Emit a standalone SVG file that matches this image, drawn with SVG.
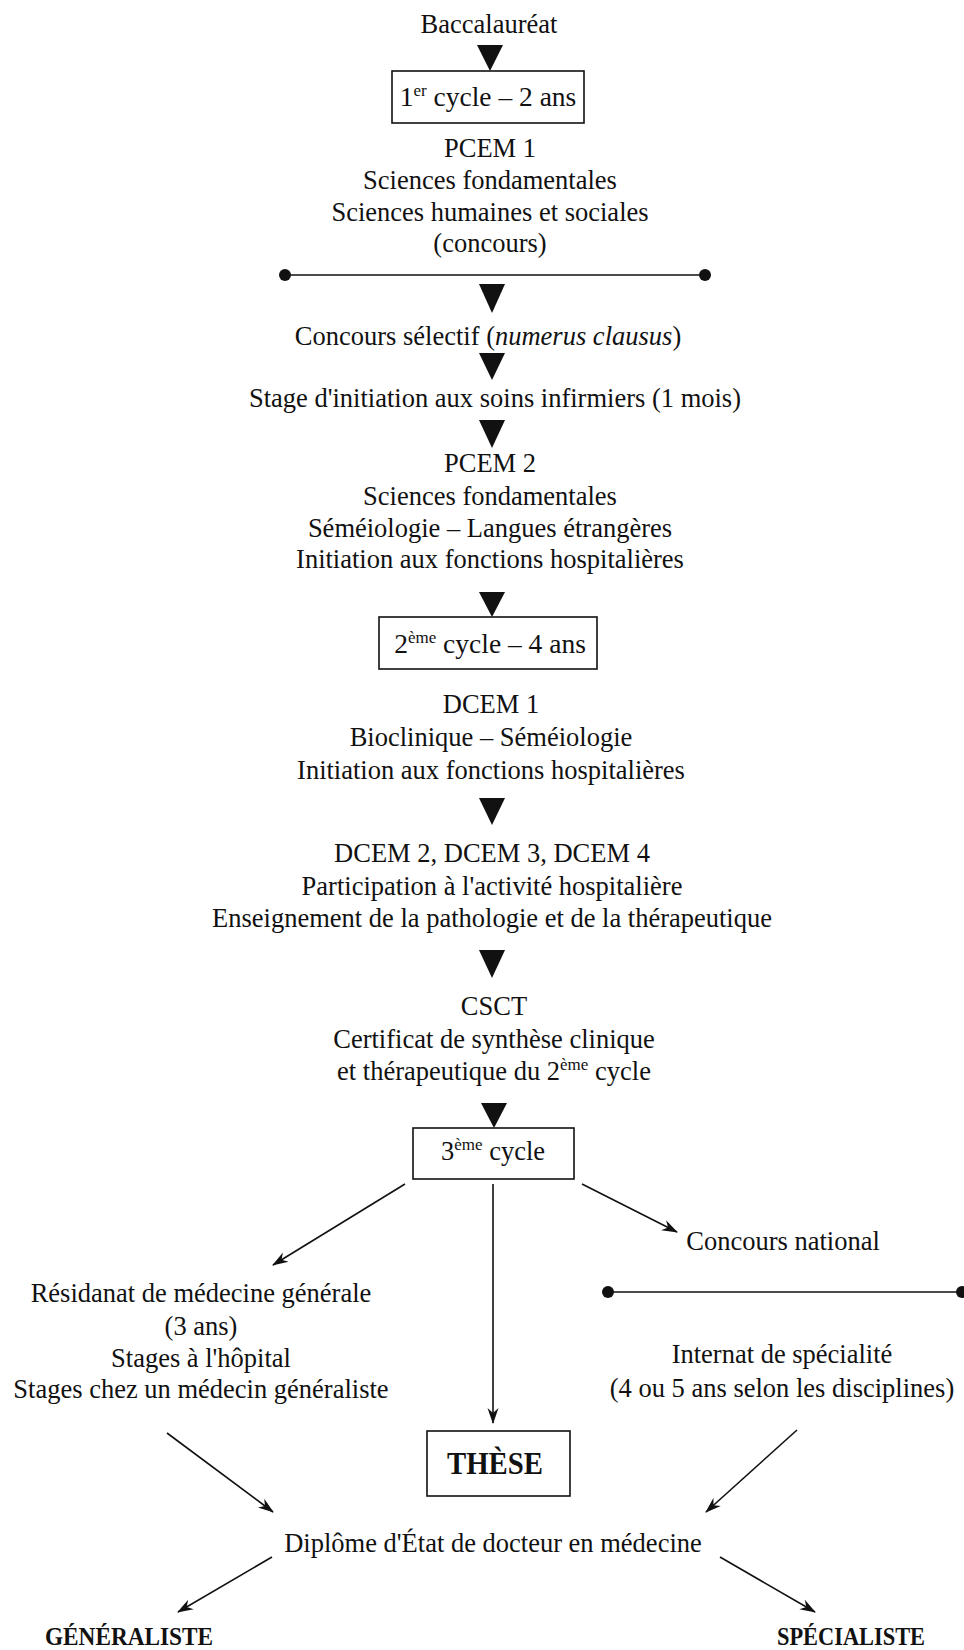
<svg xmlns="http://www.w3.org/2000/svg" width="964" height="1650" viewBox="0 0 964 1650">
<defs>
<style>
text{font-family:"Liberation Serif","Times New Roman",serif;font-size:26.5px;fill:#111;text-anchor:middle}
.bx{font-size:27.5px}
.b{font-weight:bold;font-size:26px}
.t{font-weight:bold;font-size:32px}
.sup{font-size:17px}
.box{fill:#fff;stroke:#111;stroke-width:1.6}
.tri{fill:#111}
.ln{stroke:#111;stroke-width:1.6;fill:none}
.ar{stroke:#111;stroke-width:1.6;fill:none;marker-end:url(#ah)}
.dot{fill:#111}
</style>
<marker id="ah" markerWidth="18" markerHeight="12" refX="15" refY="6" orient="auto" markerUnits="userSpaceOnUse">
<path d="M0,0.5 L16,6 L0,11.5 L5,6 Z" fill="#111"/>
</marker>
</defs>
<rect width="964" height="1650" fill="#fff"/>

<g id="connectors">
<polygon class="tri" points="477,45 503,45 490,71"/>
<line class="ln" x1="285" y1="275" x2="705" y2="275"/>
<circle class="dot" cx="285" cy="275" r="6"/>
<circle class="dot" cx="705" cy="275" r="6"/>
<polygon class="tri" points="479,284 505,284 492,313"/>
<polygon class="tri" points="479,353 505,353 492,380"/>
<polygon class="tri" points="479,420 505,420 492,448"/>
<polygon class="tri" points="479,592 505,592 492,617"/>
<polygon class="tri" points="479,798 505,798 492,825"/>
<polygon class="tri" points="479,950 505,950 492,978"/>
<polygon class="tri" points="481,1103 507,1103 494,1128"/>
<line class="ar" x1="405" y1="1184" x2="273" y2="1265"/>
<line class="ar" x1="582" y1="1184" x2="677" y2="1232"/>
<line class="ar" x1="493" y1="1184" x2="493" y2="1423"/>
<line class="ln" x1="608" y1="1292" x2="962" y2="1292"/>
<circle class="dot" cx="608" cy="1292" r="6"/>
<circle class="dot" cx="962" cy="1292" r="6"/>
<line class="ar" x1="167" y1="1433" x2="273" y2="1512"/>
<line class="ar" x1="797" y1="1430" x2="706" y2="1512"/>
<line class="ar" x1="272" y1="1557" x2="178" y2="1612"/>
<line class="ar" x1="720" y1="1557" x2="815" y2="1612"/>
</g>

<g id="bac"><text x="489" y="33">Baccalauréat</text></g>

<g id="cycle1">
<rect class="box" x="392" y="71" width="192" height="52"/>
<text class="bx" x="488" y="106">1<tspan class="sup" dy="-10">er</tspan><tspan dy="10"> cycle – 2 ans</tspan></text>
</g>

<g id="pcem1">
<text x="490" y="157">PCEM 1</text>
<text x="490" y="189">Sciences fondamentales</text>
<text x="490" y="221">Sciences humaines et sociales</text>
<text x="490" y="252">(concours)</text>
</g>

<g id="concours"><text x="488" y="345">Concours sélectif (<tspan font-style="italic">numerus clausus</tspan>)</text></g>

<g id="stage"><text x="495" y="407">Stage d'initiation aux soins infirmiers (1 mois)</text></g>

<g id="pcem2">
<text x="490" y="472">PCEM 2</text>
<text x="490" y="505">Sciences fondamentales</text>
<text x="490" y="537">Séméiologie – Langues étrangères</text>
<text x="490" y="568">Initiation aux fonctions hospitalières</text>
</g>

<g id="cycle2">
<rect class="box" x="379" y="617" width="218" height="52"/>
<text class="bx" x="490" y="653">2<tspan class="sup" dy="-10">ème</tspan><tspan dy="10"> cycle – 4 ans</tspan></text>
</g>

<g id="dcem1">
<text x="491" y="713">DCEM 1</text>
<text x="491" y="746">Bioclinique – Séméiologie</text>
<text x="491" y="779">Initiation aux fonctions hospitalières</text>
</g>

<g id="dcem234">
<text x="492" y="862">DCEM 2, DCEM 3, DCEM 4</text>
<text x="492" y="895">Participation à l'activité hospitalière</text>
<text x="492" y="927">Enseignement de la pathologie et de la thérapeutique</text>
</g>

<g id="csct">
<text x="494" y="1015">CSCT</text>
<text x="494" y="1048">Certificat de synthèse clinique</text>
<text x="494" y="1080">et thérapeutique du 2<tspan class="sup" dy="-10">ème</tspan><tspan dy="10"> cycle</tspan></text>
</g>

<g id="cycle3">
<rect class="box" x="413" y="1128" width="161" height="51"/>
<text x="493" y="1160">3<tspan class="sup" dy="-10">ème</tspan><tspan dy="10"> cycle</tspan></text>
</g>

<g id="concours-national"><text x="783" y="1250">Concours national</text></g>

<g id="residanat">
<text x="201" y="1302">Résidanat de médecine générale</text>
<text x="201" y="1335">(3 ans)</text>
<text x="201" y="1367">Stages à l'hôpital</text>
<text x="201" y="1398">Stages chez un médecin généraliste</text>
</g>

<g id="internat">
<text x="782" y="1363">Internat de spécialité</text>
<text x="782" y="1397">(4 ou 5 ans selon les disciplines)</text>
</g>

<g id="these">
<rect class="box" x="427" y="1431" width="143" height="65"/>
<text class="t" x="495" y="1474" textLength="96" lengthAdjust="spacingAndGlyphs">THÈSE</text>
</g>

<g id="diplome"><text x="493" y="1552">Diplôme d'État de docteur en médecine</text></g>

<g id="generaliste"><text class="b" x="129" y="1645" textLength="168" lengthAdjust="spacingAndGlyphs">GÉNÉRALISTE</text></g>
<g id="specialiste"><text class="b" x="851" y="1645" textLength="148" lengthAdjust="spacingAndGlyphs">SPÉCIALISTE</text></g>
</svg>
